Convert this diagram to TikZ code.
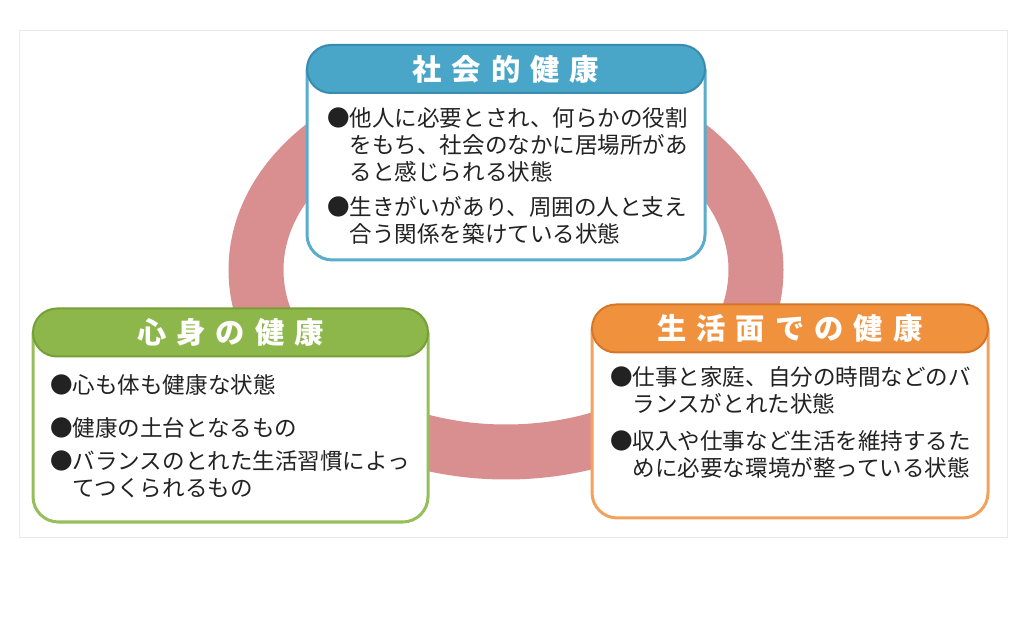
\documentclass[tikz,border=0pt]{standalone}
\usepackage{fontspec}
\newfontfamily\cjk{Noto Sans CJK JP}
\usepackage{tikz}
\usetikzlibrary{positioning}

\definecolor{ringpink}{RGB}{217,142,144}
\definecolor{socblue}{RGB}{74,166,200}
\definecolor{socline}{RGB}{55,140,175}
\definecolor{socedge}{RGB}{88,172,204}
\definecolor{mindgreen}{RGB}{141,183,74}
\definecolor{mindline}{RGB}{118,160,55}
\definecolor{mindedge}{RGB}{150,190,90}
\definecolor{lifeorange}{RGB}{240,145,62}
\definecolor{lifeline}{RGB}{214,118,40}
\definecolor{lifeedge}{RGB}{242,162,92}
\definecolor{framegray}{RGB}{234,234,234}
\definecolor{txtgray}{RGB}{34,34,34}

\newcommand{\tsp}{\hspace{7.5pt}}
\newcommand{\ind}{\phantom{●}}

\begin{document}
\begin{tikzpicture}[x=0.75pt,y=0.75pt,yscale=-1,xscale=1,
  head/.style={draw, rounded corners=18pt, minimum height=36pt, inner sep=0pt, line width=1.5pt,
    text=white, font=\cjk\bfseries\fontsize{22}{24}\selectfont},
  bodybox/.style={rounded corners=19pt, fill=white, line width=2.25pt},
  bodytxt/.style={anchor=north west, inner sep=0pt, align=left, text=txtgray,
    font=\cjk\fontsize{16.9}{20.25}\selectfont}]

%Background and frame
\fill[white] (0,0) rectangle (1025,641);
\useasboundingbox (0,0) rectangle (1025,641);
\draw[framegray, line width=0.75pt] (19,31) rectangle (1007,537);

%Shape: Ring
\draw[ringpink, line width=41.25pt] (506,270) ellipse [x radius=250, y radius=182];

%Shape: Social box
\coordinate (soc-nw) at (307,69);
\coordinate (soc-se) at (705,260);
\draw[bodybox, draw=socedge] (soc-nw) |- (soc-se) -- (soc-se |- soc-nw);
\node[head, fill=socblue, draw=socline, minimum width=298.5pt] (soc) at (506,69) {社\tsp 会\tsp 的\tsp 健\tsp 康};

%Shape: Mind and body box
\coordinate (mind-nw) at (33,332.5);
\coordinate (mind-se) at (428,522);
\draw[bodybox, draw=mindedge] (mind-nw) |- (mind-se) -- (mind-se |- mind-nw);
\node[head, fill=mindgreen, draw=mindline, minimum width=296.25pt] (mind) at (230.5,332.5) {心\tsp 身\tsp の\tsp 健\tsp 康};

%Shape: Life box
\coordinate (life-nw) at (592,328.5);
\coordinate (life-se) at (988,518);
\draw[bodybox, draw=lifeedge] (life-nw) |- (life-se) -- (life-se |- life-nw);
\node[head, fill=lifeorange, draw=lifeline, minimum width=297pt] (life) at (790,328.5) {生\tsp 活\tsp 面\tsp で\tsp の\tsp 健\tsp 康};

% Text Node
\node[bodytxt] (soc-txt) at (327,107) {●他人に必要とされ、何らかの役割\\
\ind をもち、社会のなかに居場所があ\\
\ind ると感じられる状態\\[6pt]
●生きがいがあり、周囲の人と支え\\
\ind 合う関係を築けている状態};
% Text Node
\node[bodytxt] (mind-txt) at (50,374) {●心も体も健康な状態\\[12pt]
●健康の土台となるもの\\[5pt]
●バランスのとれた生活習慣によっ\\
\ind てつくられるもの};
% Text Node
\node[bodytxt] (life-txt) at (610,366) {●仕事と家庭、自分の時間などのバ\\
\ind ランスがとれた状態\\[7.5pt]
●収入や仕事など生活を維持するた\\
\ind めに必要な環境が整っている状態};
\end{tikzpicture}
\end{document}
